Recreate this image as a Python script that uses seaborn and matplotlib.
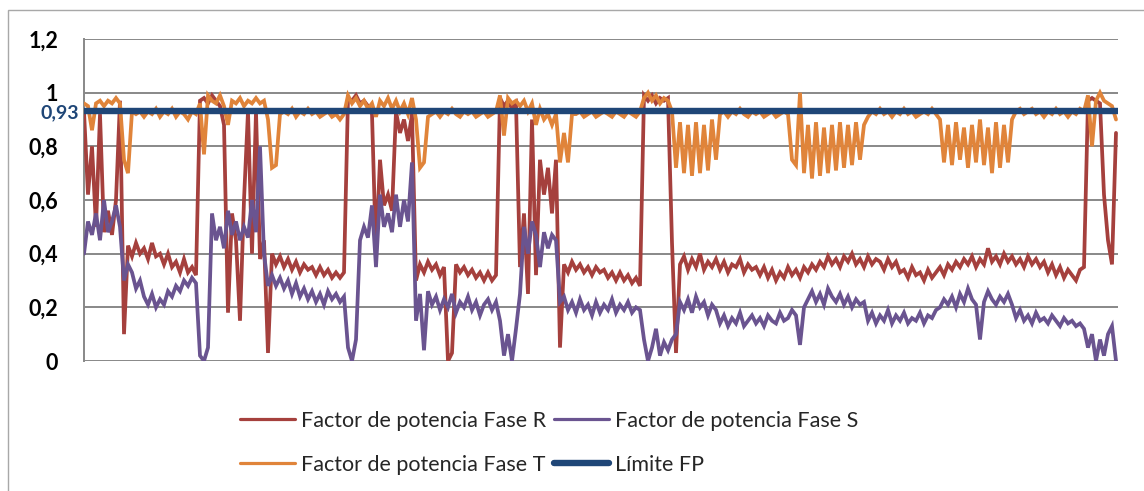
import numpy as np
import pandas as pd
import matplotlib
matplotlib.use("Agg")
import matplotlib.pyplot as plt
from matplotlib.lines import Line2D
from matplotlib.patches import Rectangle
import seaborn as sns

# ---------------- data ----------------
fase_r = [
    0.93, 0.62, 0.80, 0.50, 0.92, 0.48, 0.56, 0.47, 0.60, 0.97, 0.10, 0.43, 0.39, 0.44, 0.40,
    0.42, 0.38, 0.44, 0.39, 0.40, 0.36, 0.40, 0.35, 0.37, 0.33, 0.38, 0.33, 0.35, 0.32,
    0.97, 0.98, 0.96, 0.99, 0.97, 0.95, 0.88, 0.18, 0.55, 0.45, 0.15, 0.60, 0.93, 0.40, 0.93,
    0.38, 0.45, 0.03,
    0.40, 0.36, 0.39, 0.35, 0.38, 0.34, 0.37, 0.33, 0.36, 0.34, 0.35, 0.32, 0.35, 0.32, 0.34,
    0.31, 0.33, 0.31, 0.33,
    0.98, 0.97, 0.99, 0.96, 0.97, 0.95, 0.92, 0.40, 0.75, 0.58, 0.62, 0.56, 0.93, 0.85, 0.90,
    0.82, 0.92, 0.30,
    0.36, 0.33, 0.37, 0.34, 0.36, 0.32, 0.35, 0.00, 0.03, 0.36, 0.33, 0.35, 0.32, 0.34, 0.31,
    0.33, 0.30, 0.33, 0.30, 0.32,
    0.98, 0.95, 0.97, 0.94, 0.96, 0.35, 0.55, 0.25, 0.90, 0.32, 0.75, 0.62, 0.72, 0.55, 0.75, 0.05,
    0.36, 0.33, 0.37, 0.34, 0.36, 0.33, 0.35, 0.32, 0.35, 0.33, 0.34, 0.31, 0.33, 0.30, 0.33,
    0.30, 0.32, 0.29, 0.31, 0.28,
    0.99, 0.97, 0.99, 0.96, 0.98, 0.97, 0.98, 0.44, 0.03,
    0.36, 0.39, 0.34, 0.38, 0.35, 0.40, 0.34, 0.37, 0.35, 0.38,
    0.34, 0.37, 0.33, 0.36, 0.35, 0.38, 0.33, 0.36, 0.34, 0.35,
    0.32, 0.35, 0.31, 0.34, 0.30, 0.33, 0.31, 0.35, 0.32, 0.34,
    0.31, 0.35, 0.33, 0.36, 0.34, 0.37, 0.35, 0.39, 0.36, 0.38,
    0.35, 0.39, 0.37, 0.40, 0.36, 0.38, 0.35, 0.39, 0.36, 0.38,
    0.37, 0.34, 0.38, 0.35, 0.37, 0.33, 0.34, 0.31, 0.35, 0.32,
    0.33, 0.30, 0.34, 0.31, 0.33, 0.35, 0.32, 0.36, 0.34, 0.37,
    0.35, 0.38, 0.36, 0.39, 0.35, 0.38, 0.36, 0.42, 0.37, 0.39,
    0.36, 0.40, 0.37, 0.39, 0.36, 0.38, 0.35, 0.39, 0.36, 0.38,
    0.35, 0.37, 0.33, 0.36, 0.32, 0.35, 0.31, 0.34, 0.32, 0.30,
    0.34, 0.35,
    0.97, 0.98, 0.97, 0.96, 0.62, 0.45, 0.36, 0.85,
]

fase_s = [
    0.40, 0.52, 0.47, 0.55, 0.45, 0.60, 0.48, 0.52, 0.58, 0.50, 0.30, 0.36,
    0.33, 0.27, 0.30, 0.24, 0.21, 0.25, 0.20, 0.23, 0.21, 0.26, 0.24, 0.28, 0.26, 0.30, 0.28,
    0.31, 0.29,
    0.02, 0.00, 0.05, 0.55, 0.45, 0.50, 0.42, 0.56, 0.47, 0.52, 0.45, 0.50, 0.46, 0.60, 0.48,
    0.80, 0.40, 0.28,
    0.32, 0.28, 0.31, 0.27, 0.30, 0.25, 0.29, 0.24, 0.27, 0.23, 0.26, 0.22, 0.25, 0.21, 0.26,
    0.23, 0.25, 0.22, 0.24,
    0.05, 0.00, 0.08, 0.45, 0.50, 0.46, 0.58, 0.35, 0.62, 0.50, 0.55, 0.48, 0.62, 0.50, 0.60,
    0.52, 0.74, 0.15,
    0.25, 0.04, 0.26, 0.21, 0.24, 0.19, 0.23, 0.20, 0.25, 0.18, 0.22, 0.20, 0.24, 0.19, 0.22,
    0.17, 0.21, 0.23, 0.19, 0.22,
    0.15, 0.02, 0.10, 0.00, 0.12, 0.25, 0.50, 0.40, 0.52, 0.47, 0.35, 0.48, 0.42, 0.47, 0.45, 0.22,
    0.24, 0.19, 0.22, 0.18, 0.23, 0.19, 0.21, 0.17, 0.22, 0.18, 0.21, 0.19, 0.23, 0.18, 0.21,
    0.19, 0.22, 0.18, 0.20, 0.19,
    0.08, 0.00, 0.05, 0.12, 0.02, 0.07, 0.04, 0.08, 0.10, 0.22,
    0.19, 0.23, 0.18, 0.24, 0.20, 0.22, 0.17, 0.21, 0.19,
    0.14, 0.17, 0.13, 0.16, 0.14, 0.18, 0.13, 0.15, 0.17, 0.14, 0.16, 0.13, 0.17, 0.15, 0.14,
    0.18, 0.15,
    0.16, 0.19, 0.17, 0.06, 0.20,
    0.23, 0.26, 0.22, 0.25, 0.21, 0.27, 0.24, 0.22, 0.25, 0.21, 0.24, 0.20, 0.23, 0.21, 0.22,
    0.15, 0.18, 0.14, 0.17, 0.15, 0.19, 0.14, 0.17, 0.15, 0.18, 0.14, 0.16, 0.15, 0.18, 0.14,
    0.17, 0.16, 0.19,
    0.20, 0.23, 0.21, 0.24, 0.20, 0.25, 0.22, 0.27, 0.23, 0.21, 0.08, 0.22, 0.26, 0.23, 0.21,
    0.24, 0.22, 0.25, 0.21,
    0.16, 0.19, 0.15, 0.17, 0.14, 0.18, 0.15, 0.16, 0.14, 0.17, 0.15, 0.13, 0.16, 0.14, 0.15,
    0.13, 0.14, 0.12,
    0.05, 0.10, 0.00, 0.08, 0.02, 0.10, 0.13, 0.00,
]

fase_t = [
    0.96, 0.95, 0.86, 0.96, 0.97, 0.95, 0.97, 0.96, 0.98, 0.96, 0.75, 0.70, 0.93,
    0.92, 0.93, 0.91, 0.93, 0.92, 0.94, 0.91, 0.93, 0.92, 0.94, 0.91, 0.93, 0.92, 0.90, 0.93,
    0.92,
    0.96, 0.77, 0.99, 0.97, 0.96, 0.99, 0.95, 0.88, 0.97, 0.96, 0.98, 0.95, 0.97, 0.96, 0.98,
    0.96, 0.97, 0.90, 0.72, 0.73, 0.92,
    0.93, 0.92, 0.94, 0.91, 0.93, 0.92, 0.94, 0.92, 0.93, 0.91, 0.92, 0.93, 0.91, 0.92, 0.90,
    0.92,
    0.99, 0.96, 0.98, 0.95, 0.97, 0.94, 0.96, 0.91, 0.97, 0.95, 0.98, 0.94, 0.97, 0.93, 0.96,
    0.92, 0.98, 0.90, 0.72, 0.74, 0.91,
    0.92, 0.93, 0.91, 0.93, 0.92, 0.94, 0.92, 0.91, 0.93, 0.92, 0.93, 0.91, 0.92, 0.93, 0.91,
    0.92, 0.93,
    0.99, 0.84, 0.98, 0.96, 0.97, 0.95, 0.97, 0.93, 0.96, 0.88, 0.94, 0.90, 0.92, 0.88, 0.92,
    0.74, 0.85, 0.74, 0.92,
    0.92, 0.93, 0.91, 0.92, 0.93, 0.91, 0.92, 0.93, 0.92, 0.91, 0.93, 0.92, 0.91, 0.93, 0.92,
    0.91, 0.93,
    0.98, 1.00, 0.97, 0.99, 0.96, 0.98, 0.97, 0.93,
    0.72, 0.89, 0.70, 0.88, 0.69, 0.89, 0.70, 0.88, 0.71, 0.90, 0.75,
    0.92, 0.93, 0.91, 0.93, 0.92, 0.94, 0.92, 0.91, 0.93, 0.92, 0.93, 0.91, 0.92, 0.93, 0.91,
    0.92, 0.93,
    0.92, 0.75, 0.73, 1.00, 0.70, 0.88, 0.68, 0.89, 0.69, 0.87, 0.70, 0.88, 0.71, 0.89, 0.72,
    0.88, 0.73, 0.89, 0.75, 0.88,
    0.91, 0.93, 0.92, 0.94, 0.92, 0.93, 0.91, 0.93, 0.92, 0.94, 0.92, 0.93, 0.91, 0.92, 0.93,
    0.92, 0.94, 0.92,
    0.90, 0.74, 0.88, 0.73, 0.89, 0.75, 0.87, 0.72, 0.88, 0.74, 0.90, 0.73, 0.87, 0.70, 0.89,
    0.72, 0.88, 0.74, 0.90,
    0.93, 0.94, 0.92, 0.93, 0.94, 0.92, 0.93, 0.91, 0.93, 0.92, 0.94, 0.92, 0.93, 0.91, 0.93,
    0.92, 0.94, 0.93,
    0.99, 0.80, 0.97, 1.00, 0.97, 0.96, 0.95, 0.90,
]

limite_fp = 0.93
series_names = ["Factor de potencia Fase R", "Factor de potencia Fase S",
                "Factor de potencia Fase T"]
limit_name = "Límite FP"
y_ticks = [0, 0.2, 0.4, 0.6, 0.8, 1.0, 1.2]
y_tick_labels = ["0", "0,2", "0,4", "0,6", "0,8", "1", "1,2"]
limit_label = "0,93"

# ---------------- style ----------------
sns.set_style("white")
plt.rcParams["font.family"] = ["Lato", "DejaVu Sans"]

colors = {series_names[0]: "#A5403D",
          series_names[1]: "#6A5490",
          series_names[2]: "#E0843A"}
limit_color = "#1F4677"
grid_color = "#888888"

frames = []
for name, vals in zip(series_names, [fase_r, fase_s, fase_t]):
    frames.append(pd.DataFrame({"idx": np.arange(len(vals)), "valor": vals, "serie": name}))
df = pd.concat(frames, ignore_index=True)

W, H = 1144, 491
fig = plt.figure(figsize=(W / 100, H / 100), dpi=100)
ax = fig.add_axes([84 / W, 1 - 361 / H, 1034 / W, 322 / H])

sns.lineplot(data=df, x="idx", y="valor", hue="serie", hue_order=series_names,
             palette=colors, linewidth=2.7, legend=False, ax=ax, estimator=None,
             sort=False)
for ln in ax.get_lines():
    ln.set_solid_joinstyle("miter")
ax.axhline(limite_fp, color=limit_color, linewidth=4.6, zorder=5)

ax.set_xlim(0, 258.5)
ax.set_ylim(0, 1.2)
ax.set_xticks([])
ax.set_yticks(y_ticks)
ax.set_yticklabels(y_tick_labels)
ax.set_xlabel("")
ax.set_ylabel("")
ax.grid(False)
for yv in y_ticks:
    ax.axhline(yv, color=grid_color, linewidth=1.4, zorder=0)

for side in ["top", "right", "bottom"]:
    ax.spines[side].set_visible(False)
ax.spines["left"].set_color(grid_color)
ax.spines["left"].set_linewidth(1.4)
ax.spines["left"].set_zorder(0)
ax.tick_params(axis="y", length=6.5, width=1.4, color=grid_color, pad=12,
               labelsize=15.5, labelcolor="black")
for lbl in ax.get_yticklabels():
    lbl.set_fontweight("bold")

ax.text(-0.005, limite_fp - 0.003, limit_label, transform=ax.get_yaxis_transform(),
        ha="right", va="center", color=limit_color, fontsize=14, fontweight="bold",
        zorder=6)

# outer chart border
fig.patches.append(Rectangle((8 / W, -0.5), 2.0, 1.5 - 10 / H, transform=fig.transFigure,
                             fill=False, edgecolor="#A8A8A8", linewidth=1.0))

handles = [
    Line2D([], [], color=colors[series_names[0]], linewidth=2.3),
    Line2D([], [], color=colors[series_names[2]], linewidth=2.3),
    Line2D([], [], color=colors[series_names[1]], linewidth=2.3),
    Line2D([], [], color=limit_color, linewidth=4.6, solid_capstyle="round"),
]
labels = [series_names[0], series_names[2], series_names[1], limit_name]
fig.legend(handles, labels, ncol=2, loc="upper left",
           bbox_to_anchor=(240 / W, 1 - 411 / H), frameon=False, fontsize=15.5,
           handlelength=2.55, handletextpad=0.3, columnspacing=0.35,
           labelspacing=1.1, borderpad=0, borderaxespad=0)

fig.savefig("out.png", dpi=100, facecolor="white")
